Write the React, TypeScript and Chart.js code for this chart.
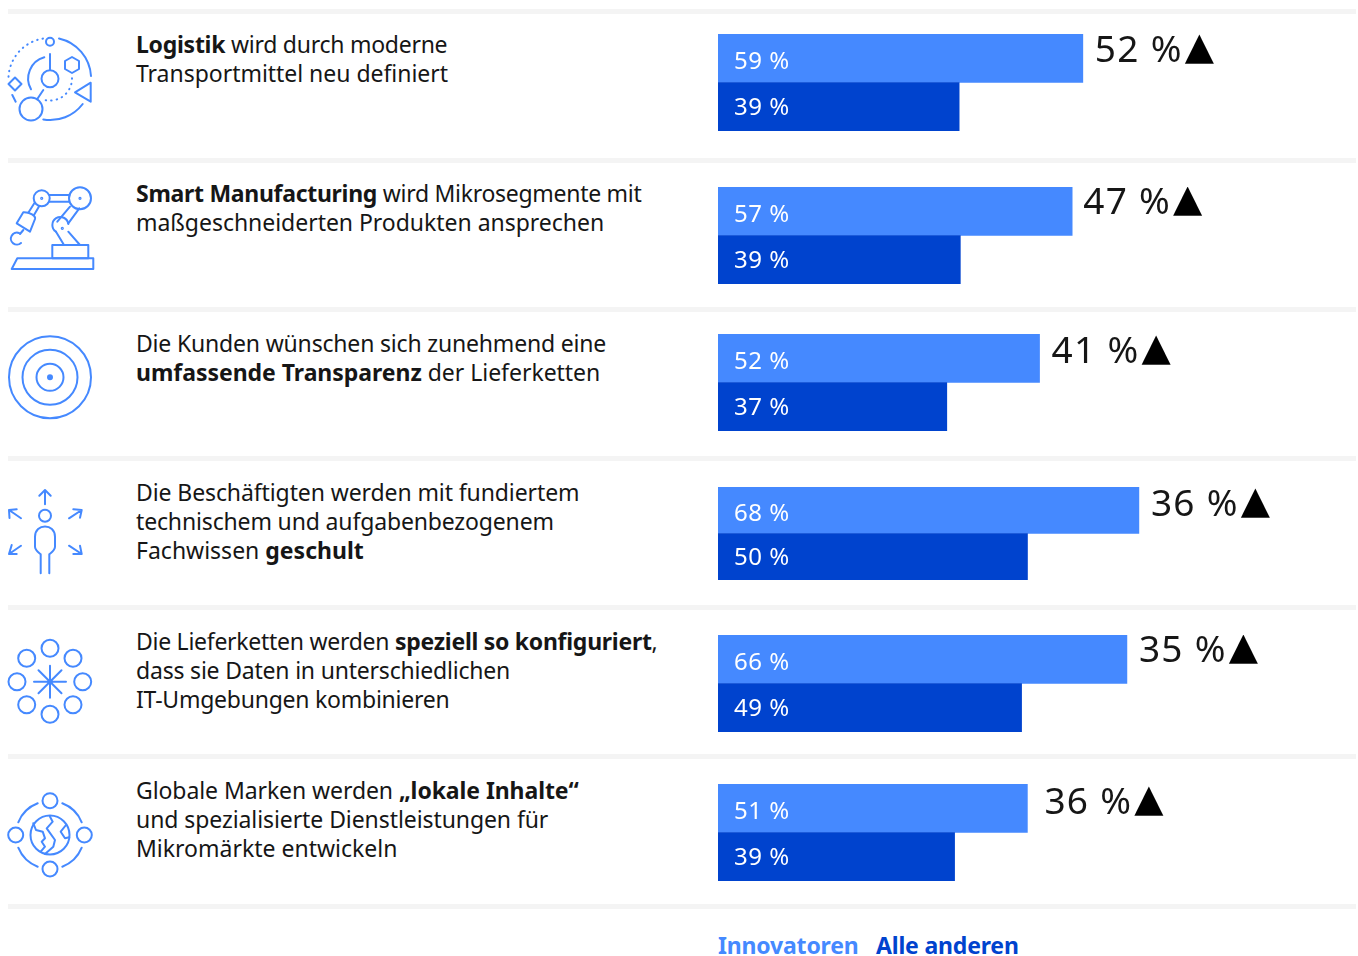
import React, { useEffect, useRef } from "react";
import { Chart, registerables } from "chart.js";

Chart.register(...registerables);

// Survey values, one entry per topic
const innovators = [59, 57, 52, 68, 66, 51];
const others = [39, 39, 37, 50, 49, 39];
const gaps = [52, 47, 41, 36, 35, 36];
const seriesNames = ["Innovatoren", "Alle anderen"];

type Seg = [string, boolean?];
const topicLines: Seg[][][] = [
  [[["Logistik", true], [" wird durch moderne"]], [["Transportmittel neu definiert"]]],
  [[["Smart Manufacturing", true], [" wird Mikrosegmente mit"]], [["maßgeschneiderten Produkten ansprechen"]]],
  [[["Die Kunden wünschen sich zunehmend eine"]], [["umfassende Transparenz", true], [" der Lieferketten"]]],
  [[["Die Beschäftigten werden mit fundiertem"]], [["technischem und aufgabenbezogenem"]], [["Fachwissen "], ["geschult", true]]],
  [[["Die Lieferketten werden "], ["speziell so konfiguriert", true], [","]], [["dass sie Daten in unterschiedlichen"]], [["IT-Umgebungen kombinieren"]]],
  [[["Globale Marken werden "], ["„lokale Inhalte“", true]], [["und spezialisierte Dienstleistungen für"]], [["Mikromärkte entwickeln"]]],
];

// Tracking per text line, so each line keeps its measure
const lineTracking = [
  [-0.26, -0.03],
  [-0.29, -0.03],
  [-0.18, -0.03],
  [-0.1, -0.15, 0],
  [-0.27, -0.2, -0.24],
  [-0.08, -0.08, 0],
];

// Row geometry
const barTops = [34, 187, 334, 487, 635, 784];
const barHeights = [97, 97, 97, 93, 97, 97];
const axisMax = [103.5, 103, 103.5, 103.4, 103.3, 105.5];
const gapOffsets = [12, 11, 12, 12, 12, 17];
const gapRise = [15, 14, 16, 16, 14, 17];
const textTops = [30, 179, 329, 478, 627, 776];
const ruleTops = [9, 158, 307, 456, 605, 754, 904];

const LIGHT = "#4589ff";
const DARK = "#0043ce";
const INK = "#161616";
const FONT = '"Noto Sans", sans-serif';

const barLabels = {
  id: "barLabels",
  afterDatasetsDraw(chart: any, _a: any, opts: any) {
    const { ctx } = chart;
    const meta = chart.getDatasetMeta(0);
    ctx.save();
    ctx.textBaseline = "middle";
    ctx.textAlign = "left";
    ctx.fillStyle = "#ffffff";
    ctx.font = `400 24px ${FONT}`;
    (ctx as any).letterSpacing = "0.5px";
    meta.data.forEach((bar: any, i: number) => {
      const v = chart.data.datasets[0].data[i];
      ctx.fillText(`${v} %`, 16, bar.y + (i === 0 ? 4 : 1));
    });
    const end = meta.data[0].x + opts.offset;
    ctx.fillStyle = INK;
    ctx.font = `400 37px ${FONT}`;
    (ctx as any).letterSpacing = "1.3px";
    const text = `${opts.gap} %`;
    ctx.fillText(text, end, opts.rise + 2);
    const w = ctx.measureText(text).width;
    (ctx as any).letterSpacing = "0px";
    ctx.fillStyle = "#000000";
    ctx.font = `400 38px "DejaVu Sans"`;
    ctx.fillText("▲", end + w + 2, opts.rise);
    ctx.restore();
  },
};

function RowChart({ index }: { index: number }) {
  const ref = useRef<HTMLCanvasElement>(null);
  useEffect(() => {
    const chart = new Chart(ref.current!, {
      type: "bar",
      data: {
        labels: seriesNames,
        datasets: [
          {
            data: [innovators[index], others[index]],
            backgroundColor: [LIGHT, DARK],
            barPercentage: 1,
            categoryPercentage: 1,
          },
        ],
      },
      options: {
        indexAxis: "y",
        responsive: false,
        animation: false,
        layout: { padding: 0 },
        plugins: {
          legend: { display: false },
          tooltip: { enabled: false },
          barLabels: { gap: gaps[index], offset: gapOffsets[index], rise: gapRise[index] },
        },
        scales: {
          x: { display: false, min: 0, max: axisMax[index] },
          y: { display: false },
        },
      } as any,
      plugins: [barLabels],
    });
    return () => chart.destroy();
  }, [index]);
  return (
    <canvas
      ref={ref}
      width={640}
      height={barHeights[index]}
      style={{ position: "absolute", left: 718, top: barTops[index], width: 640, height: barHeights[index], display: "block" }}
    />
  );
}

const S = { fill: "none", stroke: LIGHT, strokeWidth: 2, strokeLinecap: "round", strokeLinejoin: "round" } as const;

function Icons() {
  const ring8 = [[50, 648.3], [73, 658.3], [82.7, 681.7], [73, 704.7], [50, 714.3], [26.7, 704.7], [17, 681.7], [26.7, 658.3]];
  return (
    <svg width={110} height={956} style={{ position: "absolute", left: 0, top: 0 }}>
      <g {...S}>
        {/* orbit diagram */}
        <circle cx={50} cy={41.7} r={4} />
        <path d="M59 38.5A41 41 0 0 1 91 76" />
        <path d="M43.3 119.5A41 41 0 0 0 82.7 104" />
        <path d="M43 38.6A41 41 0 0 0 8.5 77" strokeDasharray="0.5 5" />
        <path d="M12.3 95L15.7 101.7" />
        <path d="M15 77.5L21.5 84L15 90.5L8.5 84Z" />
        <path d="M90.7 82.7V101.7L75 92.3Z" />
        <path d="M72 57L79 61V69L72 73L65 69V61Z" />
        <circle cx={50} cy={78.7} r={8.5} />
        <path d="M50 54V70" />
        <path d="M44.3 57.3A22 22 0 0 0 31 89.3" />
        <circle cx={31} cy={109} r={11.5} />
        <path d="M43.3 90L37.3 99" />
        <path d="M72 78.3A22 22 0 0 1 45 100" strokeDasharray="0.5 5" />

        {/* robot arm */}
        <path d="M17.3 258.3H93.3V269H11.7Z" />
        <rect x={52.3} y={245} width={36} height={13.3} />
        <circle cx={80} cy={198.3} r={11} />
        <circle cx={41.7} cy={198.3} r={8} />
        <path d="M49.3 195H69.3M49.3 201.7H69.3" />
        <path d="M70 206.7L57.3 221.7M79.3 208.3L68.3 223.3" />
        <path d="M56 231.7A8 8 0 1 1 68.3 224" />
        <path d="M56 231.7L64 245M68.3 231.7L80 245" />
        <path d="M34.3 203.3L28.3 212.7M39.3 206L34 215" />
        <path d="M16.7 223.3L23.3 212.3C30 212 36 216 35 219L30 231.7Z" />
        <path d="M23.3 230L20 234" />
        <path d="M21 243A6 6 0 1 1 19 233" />
        <circle cx={41.7} cy={198.3} r={0.6} />
        <circle cx={80} cy={198.3} r={0.6} />
        <circle cx={62.3} cy={228.3} r={0.6} />

        {/* target */}
        <circle cx={50} cy={377.3} r={41} />
        <circle cx={50} cy={377.3} r={27.5} />
        <circle cx={50} cy={377.3} r={13.5} />
        <circle cx={50} cy={377.3} r={2} fill={LIGHT} />

        {/* person with arrows */}
        <circle cx={45} cy={515.7} r={6} />
        <path d="M40.7 573.3V554.3C38 552 35 550 35 546.7V536.7C35 523 55 523 55 536.7V546.7C55 550 52 552 49.3 554.3V573.3" />
        <path d="M45 504.3V490M39.3 495.7L45 490L50.7 495.7" />
        <path d="M21 518.3L9 510M9.5 518L9 510L16.7 509.3" />
        <path d="M69 518.3L81.7 510M73.3 509.3L81.7 510L80 517.7" />
        <path d="M21 545.7L9 554M11.7 545L9 554L16.7 554" />
        <path d="M69 545.7L81.7 554M80 545.7L81.7 554L73.3 554" />

        {/* hub and ring of nodes */}
        {ring8.map(([cx, cy], i) => (
          <circle key={i} cx={cx} cy={cy} r={8.5} />
        ))}
        <path d="M50 665.7V697.7M34 681.7H66M38.5 670.2L61.5 693.2M61.5 670.2L38.5 693.2" />
        <circle cx={50} cy={681.7} r={1.5} fill={LIGHT} />

        {/* globe with orbiting nodes */}
        <circle cx={50} cy={835} r={19.5} />
        <circle cx={50} cy={800.7} r={7.5} />
        <circle cx={50} cy={869} r={7.5} />
        <circle cx={15.7} cy={835} r={7.5} />
        <circle cx={84.3} cy={835} r={7.5} />
        <path d="M37.7 803.3A34 34 0 0 0 18.3 822.3" />
        <path d="M62.3 803.3A34 34 0 0 1 81.7 822.3" />
        <path d="M18.3 847.7A34 34 0 0 0 37.7 866.7" />
        <path d="M81.7 847.7A34 34 0 0 1 62.3 866.7" />
        <path d="M33.3 823.3L36 830L42.7 831.7L45 838.3L41.7 841.7L45 846.7L40.7 851.7" />
        <path d="M50 816.7L52.7 821.7L46.7 828.3L55 840L53.3 846.7L45 854" />
        <path d="M66 825L60.7 831.7L65 838.3L69.3 837.3" />
      </g>
    </svg>
  );
}

export default function App() {
  return (
    <div
      style={{
        position: "absolute",
        left: 0,
        top: 0,
        width: 1358,
        height: 956,
        overflow: "hidden",
        background: "#fff",
        fontFamily: FONT,
        color: INK,
      }}
    >
      {ruleTops.map((t) => (
        <div key={t} style={{ position: "absolute", left: 8, top: t, width: 1348, height: 5, background: "#f4f4f4" }} />
      ))}
      <Icons />
      {topicLines.map((lines, r) => (
        <div key={r} style={{ position: "absolute", left: 136, top: textTops[r], fontSize: 23, lineHeight: "29px", whiteSpace: "nowrap" }}>
          {lines.map((line, l) => (
            <div key={l} style={{ letterSpacing: lineTracking[r][l] }}>
              {line.map(([text, bold], s) => (
                <span key={s} style={{ fontWeight: bold ? 700 : 400 }}>
                  {text}
                </span>
              ))}
            </div>
          ))}
        </div>
      ))}
      {innovators.map((_, i) => (
        <RowChart key={i} index={i} />
      ))}
      <div style={{ position: "absolute", left: 718, top: 930, fontSize: 23, lineHeight: "30px", fontWeight: 700, letterSpacing: -0.18, color: LIGHT, whiteSpace: "nowrap" }}>
        {seriesNames[0]}
      </div>
      <div style={{ position: "absolute", left: 876, top: 930, fontSize: 23, lineHeight: "30px", fontWeight: 700, letterSpacing: -0.18, color: DARK, whiteSpace: "nowrap" }}>
        {seriesNames[1]}
      </div>
    </div>
  );
}
